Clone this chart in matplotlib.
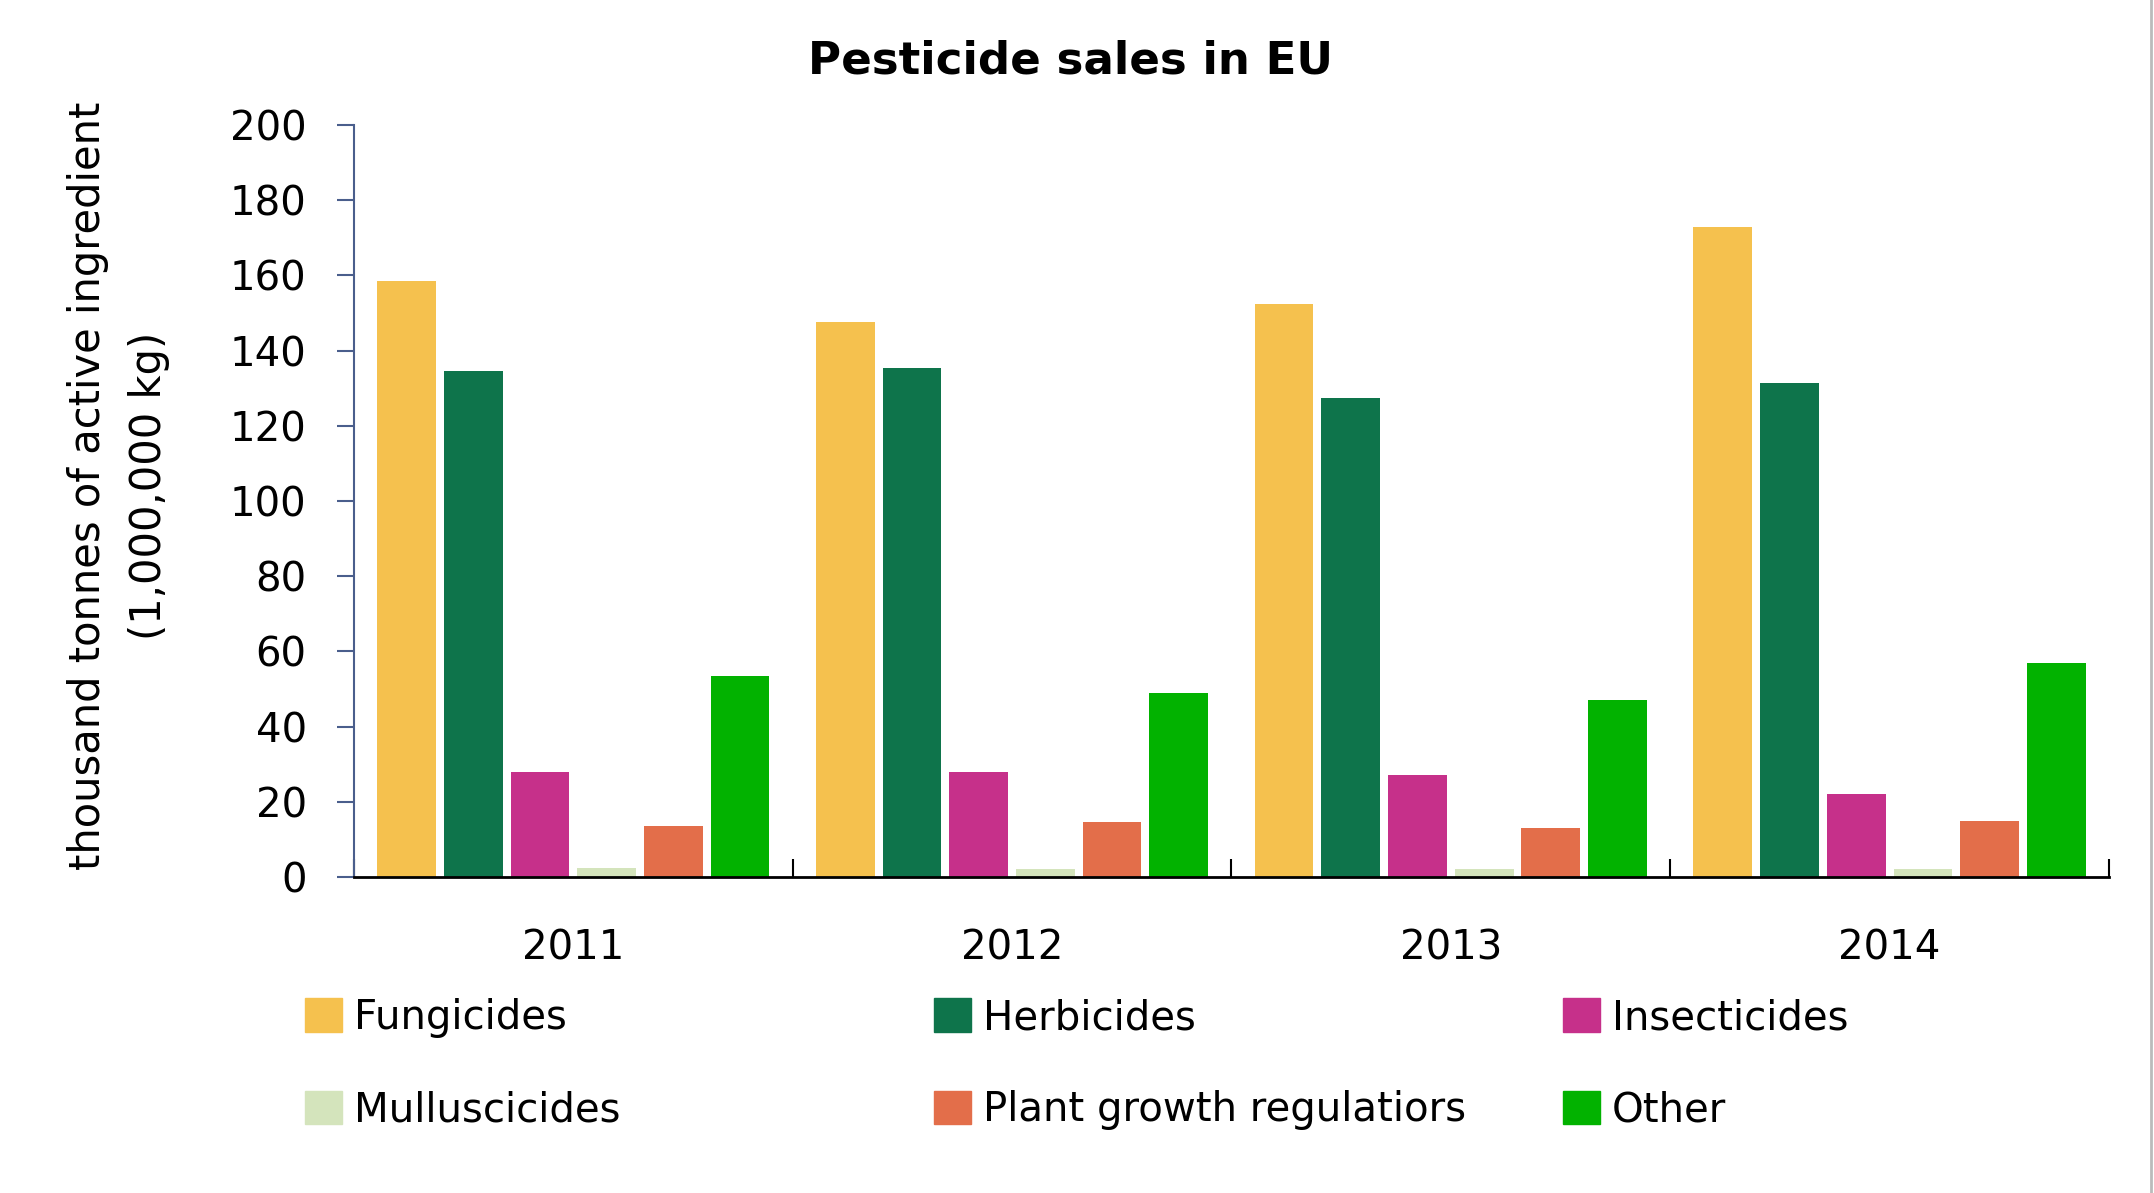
import matplotlib
matplotlib.use("Agg")
import matplotlib.pyplot as plt
import numpy as np
from matplotlib.lines import Line2D
from matplotlib.patches import Patch

plt.rcParams['font.family'] = ['DejaVu Sans']

years = ['2011', '2012', '2013', '2014']
categories = ['Fungicides', 'Herbicides', 'Insecticides',
              'Mulluscicides', 'Plant growth regulatiors', 'Other']
colors = ['#F5C14E', '#0E744B', '#C6308A', '#D4E4BC', '#E36E4A', '#02B200']

fungicides = [158.5, 147.5, 152.5, 173.0]
herbicides = [134.5, 135.5, 127.5, 131.5]
insecticides = [28.0, 28.0, 27.0, 22.0]
mulluscicides = [2.5, 2.0, 2.0, 2.0]
plant_growth = [13.5, 14.5, 13.0, 15.0]
other = [53.5, 49.0, 47.0, 57.0]

series = [fungicides, herbicides, insecticides, mulluscicides, plant_growth, other]

fig = plt.figure(figsize=(21.54, 11.93), dpi=100)
ax = fig.add_axes([0.1643, 0.2649, 0.8148, 0.6303])

ind = np.arange(len(years)) + 0.5   # group centres
step = 0.152
width = 0.134
bars = []
for k, (vals, c) in enumerate(zip(series, colors)):
    b = ax.bar(ind + (k - 2.5) * step, vals, width, color=c)
    bars.append(b)

ax.set_xlim(0, len(years))
ax.set_ylim(0, 200)
ax.set_yticks(np.arange(0, 201, 20))

# group boundaries as major ticks, year labels as minor ticks
ax.set_xticks(np.arange(0, len(years) + 1))
ax.set_xticklabels([])
ax.set_xticks(ind, minor=True)
ax.set_xticklabels(years, minor=True)
ax.tick_params(axis='x', which='major', direction='in', length=13, width=1.5, color='black')
ax.tick_params(axis='x', which='minor', length=0, pad=37, labelsize=29)
ax.tick_params(axis='y', direction='out', length=12, width=1.5, color='#4A5E8C',
               pad=22, labelsize=29)

for s in ['top', 'right']:
    ax.spines[s].set_visible(False)
ax.spines['left'].set_color('#4A5E8C')
ax.spines['left'].set_linewidth(1.5)
ax.spines['bottom'].set_color('black')
ax.spines['bottom'].set_linewidth(2)

ax.set_ylabel('thousand tonnes of active ingredient\n(1,000,000 kg)', fontsize=30,
              linespacing=1.55)
ax.yaxis.set_label_coords(-0.105, 0.52)

fig.text(0.4968, 0.949, 'Pesticide sales in EU', ha='center', va='center',
         fontsize=32.5, fontweight='bold')

# legend: three columns, two rows
col_x = [305 / 2154, 934 / 2154, 1563 / 2154]
for j in range(3):
    hs = [Patch(color=colors[j]), Patch(color=colors[j + 3])]
    ls = [categories[j], categories[j + 3]]
    fig.legend(hs, ls, loc='upper left', bbox_to_anchor=(col_x[j], 1 - 998 / 1193),
               frameon=False, fontsize=29, handlelength=0.92, handleheight=0.92,
               handletextpad=0.3, labelspacing=1.3, borderpad=0, borderaxespad=0)

fig.add_artist(Line2D([0.9985, 0.9985], [0, 1], color='#bbbbbb', lw=2,
                      transform=fig.transFigure))

fig.savefig('out.png', dpi=100)
